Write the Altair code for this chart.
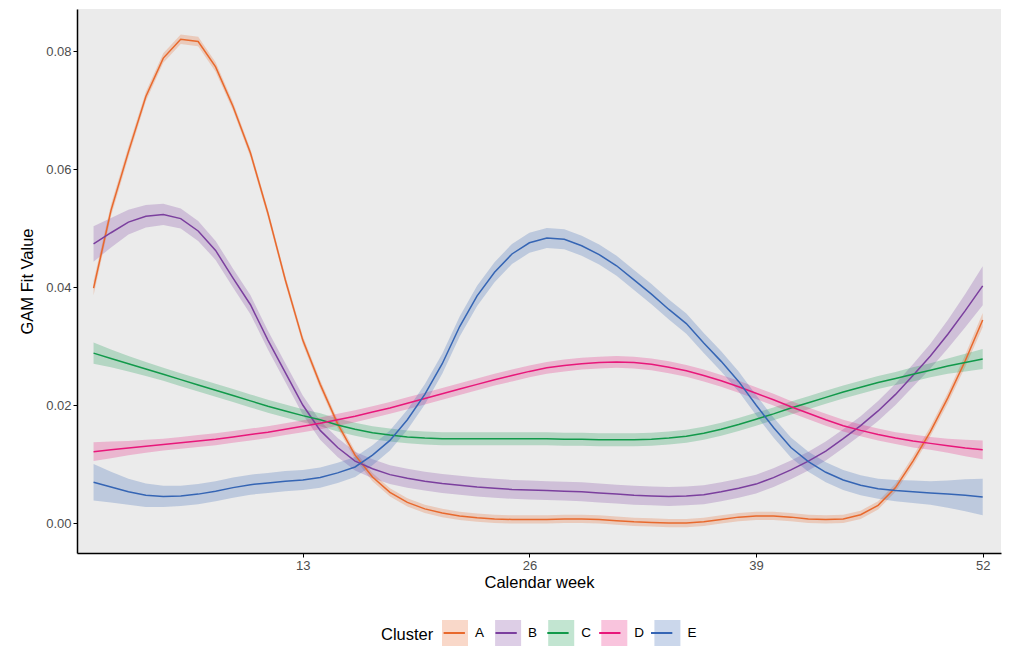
import altair as alt
import pandas as pd

weeks = list(range(1, 53))
clusters = ["A", "B", "C", "D", "E"]
line_colors = ["#E8692D", "#7B3F9E", "#11994A", "#E8177A", "#3565B4"]

fit_A = [0.0398, 0.0530, 0.0629, 0.0723, 0.0788, 0.0820, 0.0816, 0.0773, 0.0706, 0.0627,
         0.0525, 0.0412, 0.0310, 0.0235, 0.0168, 0.0115, 0.0078, 0.0052, 0.0035, 0.0024,
         0.0017, 0.0012, 0.0009, 0.0007, 0.0006, 0.0006, 0.0006, 0.0007, 0.0007, 0.0006,
         0.0004, 0.0002, 0.0001, 0.0000, 0.0000, 0.0002, 0.0006, 0.0010, 0.0012, 0.0012,
         0.0010, 0.0007, 0.0006, 0.0007, 0.0014, 0.0030, 0.0060, 0.0105, 0.0155, 0.0212,
         0.0275, 0.0344]
fit_B = [0.0473, 0.0492, 0.0510, 0.0520, 0.0523, 0.0516, 0.0495, 0.0462, 0.0415, 0.0370,
         0.0310, 0.0255, 0.0200, 0.0157, 0.0128, 0.0105, 0.0092, 0.0082, 0.0076, 0.0071,
         0.0067, 0.0064, 0.0061, 0.0059, 0.0057, 0.0056, 0.0055, 0.0054, 0.0053, 0.0051,
         0.0049, 0.0047, 0.0046, 0.0045, 0.0046, 0.0048, 0.0053, 0.0059, 0.0066, 0.0077,
         0.0090, 0.0105, 0.0122, 0.0143, 0.0165, 0.0190, 0.0218, 0.0250, 0.0283, 0.0320,
         0.0360, 0.0402]
fit_C = [0.0288, 0.0279, 0.0270, 0.0261, 0.0252, 0.0243, 0.0234, 0.0225, 0.0216, 0.0207,
         0.0198, 0.0190, 0.0182, 0.0175, 0.0166, 0.0159, 0.0153, 0.0149, 0.0146, 0.0144,
         0.0143, 0.0143, 0.0143, 0.0143, 0.0143, 0.0143, 0.0143, 0.0142, 0.0142, 0.0141,
         0.0141, 0.0141, 0.0142, 0.0144, 0.0147, 0.0152, 0.0159, 0.0167, 0.0176, 0.0185,
         0.0195, 0.0204, 0.0213, 0.0222, 0.0230, 0.0238, 0.0245, 0.0252, 0.0259, 0.0266,
         0.0272, 0.0278]
fit_D = [0.0121, 0.0124, 0.0127, 0.0130, 0.0133, 0.0136, 0.0139, 0.0142, 0.0146, 0.0150,
         0.0154, 0.0159, 0.0164, 0.0169, 0.0175, 0.0181, 0.0188, 0.0195, 0.0203, 0.0211,
         0.0219, 0.0227, 0.0235, 0.0243, 0.0250, 0.0257, 0.0263, 0.0267, 0.0270, 0.0272,
         0.0273, 0.0272, 0.0269, 0.0264, 0.0258, 0.0250, 0.0241, 0.0231, 0.0220, 0.0209,
         0.0197, 0.0186, 0.0175, 0.0165, 0.0157, 0.0150, 0.0144, 0.0139, 0.0135, 0.0131,
         0.0127, 0.0124]
fit_E = [0.0069, 0.0061, 0.0053, 0.0047, 0.0045, 0.0046, 0.0049, 0.0054, 0.0060, 0.0065,
         0.0068, 0.0071, 0.0073, 0.0077, 0.0085, 0.0095, 0.0115, 0.0140, 0.0175, 0.0218,
         0.0270, 0.0333, 0.0385, 0.0425, 0.0456, 0.0475, 0.0483, 0.0481, 0.0470, 0.0455,
         0.0436, 0.0412, 0.0388, 0.0362, 0.0338, 0.0305, 0.0274, 0.0240, 0.0200, 0.0162,
         0.0128, 0.0104, 0.0086, 0.0073, 0.0064, 0.0058, 0.0055, 0.0053, 0.0051, 0.0049,
         0.0047, 0.0044]

# half-width of the confidence band around each fit
hw_A = [0.0012, 0.0010, 0.0009, 0.0008, 0.0008, 0.0008, 0.0008, 0.0008, 0.0007, 0.0007,
        0.0007, 0.0007, 0.0007, 0.0007, 0.0007, 0.0007, 0.0007, 0.0007, 0.0007, 0.0007,
        0.0007, 0.0007, 0.0007, 0.0007, 0.0007, 0.0007, 0.0007, 0.0007, 0.0007, 0.0007,
        0.0007, 0.0007, 0.0007, 0.0007, 0.0007, 0.0007, 0.0007, 0.0007, 0.0007, 0.0007,
        0.0007, 0.0007, 0.0007, 0.0007, 0.0007, 0.0007, 0.0007, 0.0008, 0.0008, 0.0009,
        0.0010, 0.0012]
hw_B = [0.0030, 0.0025, 0.0021, 0.0019, 0.0018, 0.0017, 0.0017, 0.0016, 0.0016, 0.0016,
        0.0016, 0.0016, 0.0016, 0.0016, 0.0016, 0.0016, 0.0016, 0.0016, 0.0016, 0.0016,
        0.0016, 0.0016, 0.0016, 0.0016, 0.0016, 0.0016, 0.0016, 0.0016, 0.0016, 0.0016,
        0.0016, 0.0016, 0.0016, 0.0016, 0.0016, 0.0016, 0.0016, 0.0016, 0.0016, 0.0016,
        0.0016, 0.0016, 0.0016, 0.0016, 0.0016, 0.0017, 0.0018, 0.0019, 0.0021, 0.0024,
        0.0028, 0.0033]
hw_C = [0.0018, 0.0015, 0.0013, 0.0012, 0.0011, 0.0011, 0.0011, 0.0011, 0.0011, 0.0011,
        0.0011, 0.0011, 0.0011, 0.0011, 0.0011, 0.0011, 0.0011, 0.0011, 0.0011, 0.0011,
        0.0011, 0.0011, 0.0011, 0.0011, 0.0011, 0.0011, 0.0011, 0.0011, 0.0011, 0.0011,
        0.0011, 0.0011, 0.0011, 0.0011, 0.0011, 0.0011, 0.0011, 0.0011, 0.0011, 0.0011,
        0.0011, 0.0011, 0.0011, 0.0011, 0.0011, 0.0011, 0.0011, 0.0012, 0.0012, 0.0013,
        0.0015, 0.0017]
hw_D = [0.0016, 0.0014, 0.0012, 0.0011, 0.0010, 0.0010, 0.0010, 0.0010, 0.0010, 0.0010,
        0.0010, 0.0010, 0.0010, 0.0010, 0.0010, 0.0010, 0.0010, 0.0010, 0.0010, 0.0010,
        0.0010, 0.0010, 0.0010, 0.0010, 0.0010, 0.0010, 0.0010, 0.0010, 0.0010, 0.0010,
        0.0010, 0.0010, 0.0010, 0.0010, 0.0010, 0.0010, 0.0010, 0.0010, 0.0010, 0.0010,
        0.0010, 0.0010, 0.0010, 0.0010, 0.0010, 0.0010, 0.0010, 0.0011, 0.0011, 0.0012,
        0.0014, 0.0016]
hw_E = [0.0031, 0.0026, 0.0022, 0.0020, 0.0018, 0.0017, 0.0017, 0.0017, 0.0017, 0.0017,
        0.0017, 0.0017, 0.0017, 0.0017, 0.0017, 0.0017, 0.0017, 0.0017, 0.0017, 0.0017,
        0.0017, 0.0017, 0.0017, 0.0017, 0.0017, 0.0017, 0.0017, 0.0017, 0.0017, 0.0017,
        0.0017, 0.0017, 0.0017, 0.0017, 0.0017, 0.0017, 0.0017, 0.0017, 0.0017, 0.0017,
        0.0017, 0.0017, 0.0017, 0.0017, 0.0017, 0.0017, 0.0018, 0.0019, 0.0020, 0.0023,
        0.0027, 0.0031]

x_ticks = [13, 26, 39, 52]
y_ticks = [0.00, 0.02, 0.04, 0.06, 0.08]

fits = {"A": fit_A, "B": fit_B, "C": fit_C, "D": fit_D, "E": fit_E}
hws = {"A": hw_A, "B": hw_B, "C": hw_C, "D": hw_D, "E": hw_E}

rows = []
for c in clusters:
    for w, f, h in zip(weeks, fits[c], hws[c]):
        rows.append({"Cluster": c, "Cluster2": c, "week": w, "fit": f,
                     "lo": f - h, "hi": f + h})
df = pd.DataFrame(rows)

FONT = "Liberation Sans"

x = alt.X("week:Q", title="Calendar week",
          scale=alt.Scale(domain=[0.05, 53.05], nice=False, zero=False),
          axis=alt.Axis(values=x_ticks, grid=False))
y_enc = alt.Y("lo:Q", title="GAM Fit Value",
              scale=alt.Scale(domain=[-0.00508, 0.08712], nice=False, zero=False),
              axis=alt.Axis(values=y_ticks, format=".2f", grid=False))

LX, LY = 304, 610
TITLE_W = 52.26 + 7   # width of "Cluster" title plus its padding

# light square keys (band colour) with the labels and title
band = alt.Chart(df).mark_area(opacity=0.25).encode(
    x=x,
    y=y_enc,
    y2="hi:Q",
    fill=alt.Fill("Cluster:N",
                  scale=alt.Scale(domain=clusters, range=line_colors),
                  legend=alt.Legend(
                      orient="none", legendX=LX, legendY=LY,
                      direction="horizontal", title="Cluster",
                      titleOrient="left", titleFontSize=16.5, titleFontWeight="normal",
                      titleFont=FONT, titlePadding=7, titleBaseline="middle",
                      titleColor="#000000",
                      symbolType="square", symbolSize=676, symbolOpacity=0.25,
                      symbolStrokeWidth=2, symbolStrokeColor="transparent",
                      labelFontSize=13.5, labelFont=FONT, labelOffset=6,
                      labelColor="#000000",
                      gridAlign="all", columnPadding=6.1)),
    detail="Cluster:N",
)

# line keys drawn over the squares (separate legend, no text)
line = alt.Chart(df).mark_line(strokeWidth=1.5).encode(
    x=x,
    y=alt.Y("fit:Q"),
    stroke=alt.Stroke("Cluster2:N",
                      scale=alt.Scale(range=line_colors),
                      legend=alt.Legend(
                          orient="none", legendX=LX + TITLE_W, legendY=LY,
                          direction="horizontal", title=None,
                          symbolType="M-0.82,0H0.82", symbolSize=676,
                          symbolStrokeWidth=2, symbolFillColor="transparent",
                          labelExpr="''", labelOffset=0,
                          gridAlign="all", columnPadding=21.85, zindex=2)),
)

chart = (band + line).properties(
    width=924, height=544,
    autosize=alt.AutoSizeParams(type="none"),
    padding={"left": 69, "top": 1, "right": 3, "bottom": 93},
).configure_view(
    fill="#EBEBEB", stroke=None
).configure_axis(
    domainColor="#000000", domainWidth=1.5,
    tickColor="#000000", tickSize=4, tickWidth=1,
    labelColor="#4D4D4D", labelFontSize=13, labelFont=FONT, labelPadding=2,
    titleColor="#000000", titleFontSize=16.5, titleFont=FONT, titleFontWeight="normal",
).configure_axisY(
    titlePadding=10
).configure_axisX(
    titlePadding=2
)

chart.save("out.html", embed_options={"renderer": "svg", "actions": False})
